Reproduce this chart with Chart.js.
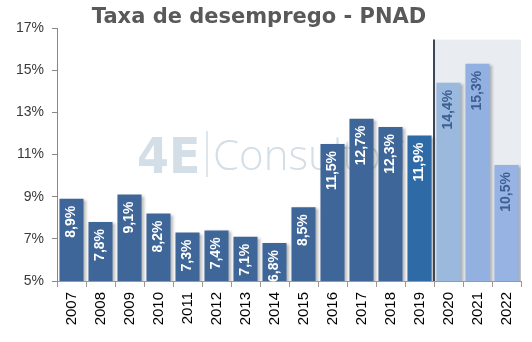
<!DOCTYPE html>
<html>
<head>
<meta charset="utf-8">
<script src="https://cdn.jsdelivr.net/npm/chart.js@4/dist/chart.umd.min.js"></script>
<style>
  html, body { margin: 0; padding: 0; background: #fff; }
  #chart { display: block; }
</style>
</head>
<body>
<canvas id="chart" width="532" height="342"></canvas>
<script>
const years = ['2007', '2008', '2009', '2010', '2011', '2012', '2013', '2014',
               '2015', '2016', '2017', '2018', '2019', '2020', '2021', '2022'];
const rates = [8.9, 7.8, 9.1, 8.2, 7.3, 7.4, 7.1, 6.8, 8.5, 11.5, 12.7, 12.3, 11.9, 14.4, 15.3, 10.5];
const barColors = ['#3f6698', '#3f6698', '#3f6698', '#3f6698', '#3f6698', '#3f6698', '#3f6698', '#3f6698',
                   '#3f6698', '#3f6698', '#3f6698', '#3f6698', '#2e6aa6', '#9ab9dc', '#93b1e0', '#97b3e4'];
const labelColors = rates.map((v, i) => i >= 13 ? '#3d5f93' : '#ffffff');
const yTicks = [5, 7, 9, 11, 13, 15, 17];
const forecastFrom = 13; // index of 2020

const fmt = v => v.toFixed(1).replace('.', ',') + '%';

// shaded projection area, divider line and watermark behind the bars
const backdrop = {
  id: 'backdrop',
  beforeDatasetsDraw(chart) {
    const { ctx, chartArea, scales: { x, y } } = chart;
    const x0 = (x.getPixelForValue(forecastFrom - 1) + x.getPixelForValue(forecastFrom)) / 2;
    const yTop = y.getPixelForValue(16.45);
    ctx.save();
    ctx.fillStyle = '#e9edf2';
    ctx.fillRect(x0, yTop, chartArea.right - x0, chartArea.bottom - yTop);

    // watermark
    ctx.fillStyle = '#d3dee7';
    ctx.strokeStyle = '#d3dee7';
    ctx.textBaseline = 'alphabetic';
    ctx.font = 'bold 50px "DejaVu Sans"';
    ctx.save();
    ctx.translate(137, 173);
    ctx.scale(0.92, 1);
    ctx.fillText('4E', 0, 0);
    ctx.restore();
    ctx.lineWidth = 1.5;
    ctx.beginPath();
    ctx.moveTo(207, 131);
    ctx.lineTo(207, 177);
    ctx.stroke();
    ctx.font = '300 42px "Open Sans"';
    ctx.fillText('Consultoria', 213, 170);
    ctx.restore();
  },
  afterDatasetsDraw(chart) {
    const { ctx, chartArea, scales: { x, y } } = chart;
    const x0 = (x.getPixelForValue(forecastFrom - 1) + x.getPixelForValue(forecastFrom)) / 2;
    ctx.save();
    ctx.strokeStyle = '#3b4656';
    ctx.lineWidth = 2;
    ctx.beginPath();
    ctx.moveTo(x0, y.getPixelForValue(16.45));
    ctx.lineTo(x0, chartArea.bottom);
    ctx.stroke();
    ctx.restore();
  }
};

// rotated value labels inside the bars
const barLabels = {
  id: 'barLabels',
  afterDatasetsDraw(chart) {
    const { ctx } = chart;
    const meta = chart.getDatasetMeta(0);
    ctx.save();
    ctx.font = 'bold 14px "Liberation Sans"';
    ctx.textAlign = 'right';
    ctx.textBaseline = 'middle';
    meta.data.forEach((bar, i) => {
      ctx.save();
      ctx.translate(bar.x, bar.y + 7);
      ctx.rotate(-Math.PI / 2);
      ctx.fillStyle = labelColors[i];
      ctx.fillText(fmt(rates[i]), 0, 0);
      ctx.restore();
    });
    ctx.restore();
  }
};

// soft shadow under the bars
const barShadow = {
  id: 'barShadow',
  beforeDatasetDraw(chart) {
    const ctx = chart.ctx;
    ctx.save();
    ctx.shadowColor = 'rgba(0,0,0,0.3)';
    ctx.shadowBlur = 3;
    ctx.shadowOffsetX = 2;
    ctx.shadowOffsetY = 1;
  },
  afterDatasetDraw(chart) {
    chart.ctx.restore();
  }
};

const title = {
  id: 'titleText',
  afterDraw(chart) {
    const ctx = chart.ctx;
    ctx.save();
    ctx.font = 'bold 21px "DejaVu Sans"';
    ctx.fillStyle = '#595959';
    ctx.textAlign = 'center';
    ctx.textBaseline = 'middle';
    ctx.fillText('Taxa de desemprego - PNAD', 259, 18);
    ctx.restore();
  }
};

new Chart(document.getElementById('chart'), {
  type: 'bar',
  data: {
    labels: years,
    datasets: [{
      label: 'Taxa de desemprego',
      data: rates,
      backgroundColor: barColors,
      borderWidth: 0,
      barPercentage: 0.83,
      categoryPercentage: 1
    }]
  },
  options: {
    responsive: false,
    animation: false,
    layout: { padding: { top: 28, right: 11, left: 0, bottom: 0 } },
    plugins: {
      legend: { display: false },
      tooltip: { enabled: false },
      title: { display: false }
    },
    scales: {
      x: {
        grid: { display: true, drawOnChartArea: false, offset: true, tickLength: 6, color: '#999' },
        border: { color: '#999', width: 1 },
        ticks: {
          minRotation: 90, maxRotation: 90, padding: 5,
          color: '#000', font: { family: 'Liberation Sans', size: 15 }
        },
        afterFit(scale) { scale.height = 61; }
      },
      y: {
        min: 5, max: 17,
        afterBuildTicks(scale) { scale.ticks = yTicks.map(v => ({ value: v })); },
        grid: { drawOnChartArea: false, tickLength: 5, color: '#888' },
        border: { color: '#888', width: 1 },
        ticks: {
          padding: 8, color: '#3a3a3a',
          font: { family: 'Liberation Sans', size: 14 },
          callback: v => v + '%'
        },
        afterFit(scale) { scale.width = 57; }
      }
    }
  },
  plugins: [backdrop, barShadow, barLabels, title]
});
</script>
</body>
</html>
